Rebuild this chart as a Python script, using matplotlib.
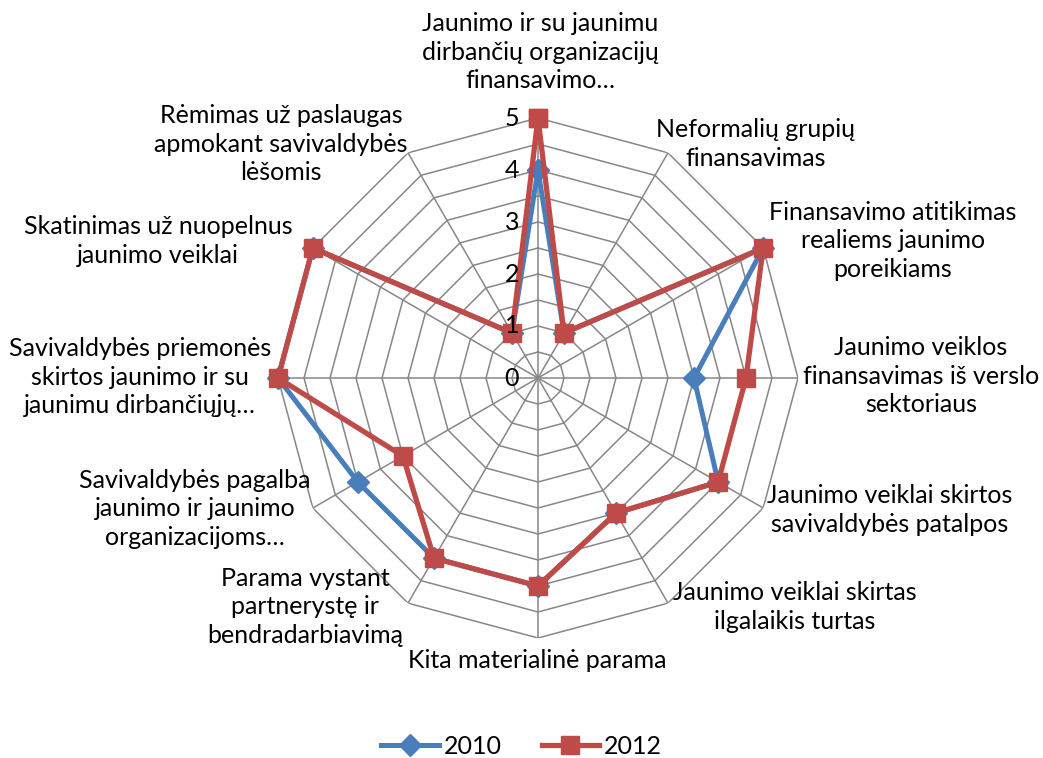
import numpy as np
import matplotlib
matplotlib.use("Agg")
import matplotlib.pyplot as plt

plt.rcParams['font.family'] = ['Lato', 'DejaVu Sans']

categories = [
    "Jaunimo ir su jaunimu\ndirbančių organizacijų\nfinansavimo…",
    "Neformalių grupių\nfinansavimas",
    "Finansavimo atitikimas\nrealiems jaunimo\nporeikiams",
    "Jaunimo veiklos\nfinansavimas iš verslo\nsektoriaus",
    "Jaunimo veiklai skirtos\nsavivaldybės patalpos",
    "Jaunimo veiklai skirtas\nilgalaikis turtas",
    "Kita materialinė parama",
    "Parama vystant\npartnerystę ir\nbendradarbiavimą",
    "Savivaldybės pagalba\njaunimo ir jaunimo\norganizacijoms…",
    "Savivaldybės priemonės\nskirtos jaunimo ir su\njaunimu dirbančiųjų…",
    "Skatinimas už nuopelnus\njaunimo veiklai",
    "Rėmimas už paslaugas\napmokant savivaldybės\nlėšomis",
]
values_2010 = [4, 1, 5, 3, 4, 3, 4, 4, 4, 5, 5, 1]
values_2012 = [5, 1, 5, 4, 4, 3, 4, 4, 3, 5, 5, 1]
series_names = ["2010", "2012"]
tick_values = [0, 1, 2, 3, 4, 5]

# label centre positions in pixels (x, y from top)
label_px = [(540, 52), (756, 144), (893, 241), (921, 376), (890, 510),
            (795, 607), (537, 660), (305, 607), (195, 509), (140, 377),
            (158, 241), (281, 144)]

W, H = 1043, 758
fig = plt.figure(figsize=(W / 100, H / 100), dpi=100)
cx, cy, R = 538, 378, 260
ax = fig.add_axes([(cx - R) / W, (H - cy - R) / H, 2 * R / W, 2 * R / H], projection='polar')
ax.set_theta_zero_location('N')
ax.set_theta_direction(-1)
ax.set_ylim(0, 5)
ax.grid(False)
ax.spines['polar'].set_visible(False)
ax.set_xticks([])
ax.set_yticks([])
ax.patch.set_alpha(0)

n = len(categories)
theta = np.arange(n) * 2 * np.pi / n
theta_closed = np.append(theta, theta[0])

grid_color = '#878787'
for r in np.arange(0.5, 5.01, 0.5):
    ax.plot(theta_closed, [r] * (n + 1), color=grid_color, lw=1.1, zorder=1)
for t in theta:
    ax.plot([t, t], [0, 5], color=grid_color, lw=1.1, zorder=1)

v10 = np.append(values_2010, values_2010[0])
v12 = np.append(values_2012, values_2012[0])
ax.plot(theta_closed, v10, color='#4A7EBB', lw=3.6, marker='D', markersize=11,
        label=series_names[0], zorder=3, clip_on=False)
ax.plot(theta_closed, v12, color='#BE4B48', lw=3.8, marker='s', markersize=13,
        label=series_names[1], zorder=4, clip_on=False)

FS = 18
for tv in tick_values:
    y = cy - tv * R / 5
    fig.text(519 / W, 1 - y / H, str(tv), ha='right', va='center', fontsize=FS, color='#000000')

for lab, (x, y) in zip(categories, label_px):
    fig.text(x / W, 1 - y / H, lab, ha='center', va='center', multialignment='center',
             fontsize=FS, linespacing=1.27, color='#000000')

fig.legend(loc='center', bbox_to_anchor=(0.5, 1 - 746 / H), ncol=2, frameon=False,
           fontsize=FS, handlelength=2.3, columnspacing=1.6, handletextpad=0.2)

fig.savefig('out.png', dpi=100)
